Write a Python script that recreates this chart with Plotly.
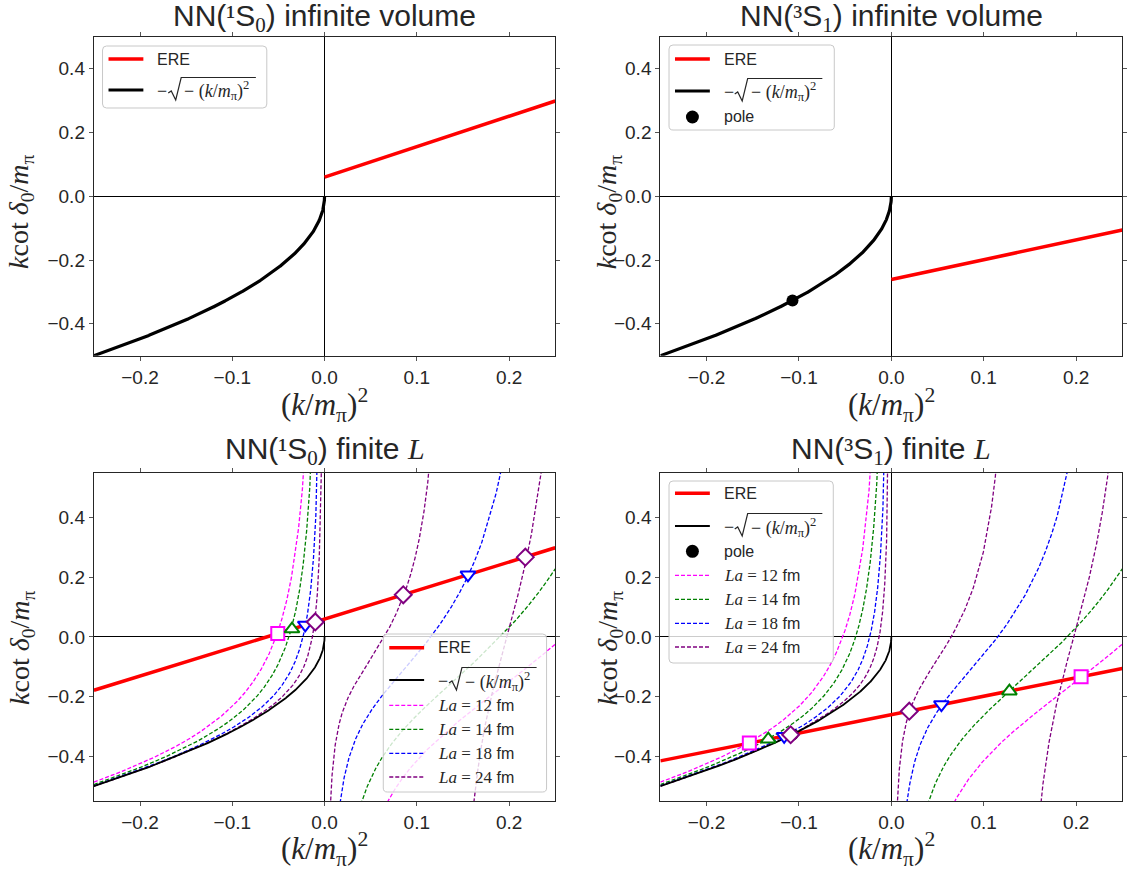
import numpy as np
import plotly.graph_objects as go

# ---------------------------------------------------------------------------
# Inputs
# ---------------------------------------------------------------------------
HBARC_MEV_FM = 197.327
M_PION_MEV = 139.57

box_sizes_fm = [12, 14, 18, 24]
box_colors = ["#ff00ff", "#008000", "#0000ff", "#800080"]
box_symbols = ["square", "triangle-up", "triangle-down", "diamond"]
box_marker_sizes = [13, 13, 13, 13]

# effective range expansion: k cot(delta)/m_pi = intercept + slope * (k/m_pi)^2
channel_names = ["1S0", "3S1"]
ere_intercept = [0.0597, -0.2609]
ere_slope = [0.955, 0.619]

# deuteron pole on the bound-state branch
pole_x = [-0.107]
pole_y = [-0.327]

# finite-volume levels (ERE crossings), one list per box size
levels_x_1s0 = [[-0.0507], [-0.0353], [-0.0209, 0.1554], [-0.0101, 0.0853, 0.2176]]
levels_y_1s0 = [[0.011], [0.026], [0.040, 0.208], [0.050, 0.141, 0.267]]
levels_x_3s1 = [[-0.1537, 0.2054], [-0.1332, 0.1278], [-0.116, 0.0542], [-0.109, 0.0194]]
levels_y_3s1 = [[-0.356, -0.134], [-0.343, -0.182], [-0.333, -0.227], [-0.328, -0.249]]

x_ticks = [-0.2, -0.1, 0.0, 0.1, 0.2]
y_ticks = [-0.4, -0.2, 0.0, 0.2, 0.4]

W, H = 1128, 871
SANS = "Liberation Sans"
SERIF = "Liberation Serif"
INK = "#262626"


# ---------------------------------------------------------------------------
# Luscher zeta function S(eta) = sum_n 1/(n^2 - eta) - 4 pi Lambda
# (heat-kernel representation, split at t = 1)
# ---------------------------------------------------------------------------
def luscher_S(eta):
    eta = np.asarray(eta, dtype=float)
    r = np.arange(-6, 7)
    n2 = (r[:, None, None] ** 2 + r[None, :, None] ** 2 + r[None, None, :] ** 2).ravel()
    n2_vals, n2_mult = np.unique(n2, return_counts=True)
    d = n2_vals[None, :] - eta[:, None]
    term_sum = np.sum(n2_mult[None, :] * np.exp(-d) / d, axis=1)

    k = np.arange(1, 45, dtype=float)
    fact = np.cumprod(k)
    coeff = 1.0 / (fact * (k - 0.5))
    term_series = np.sum(coeff[None, :] * eta[:, None] ** k[None, :], axis=1)

    m = np.arange(-3, 4)
    m2 = (m[:, None, None] ** 2 + m[None, :, None] ** 2 + m[None, None, :] ** 2).ravel()
    m2_vals, m2_mult = np.unique(m2[m2 > 0], return_counts=True)
    nodes, weights = np.polynomial.legendre.leggauss(80)
    t = 0.5 * (nodes + 1.0)
    w = 0.5 * weights
    theta = np.sum(m2_mult[None, :] * np.exp(-np.pi ** 2 * m2_vals[None, :] / t[:, None]), axis=1)
    integrand = t[None, :] ** -1.5 * np.exp(t[None, :] * eta[:, None]) * theta[None, :]
    term_poisson = integrand @ w

    p32 = np.pi ** 1.5
    return term_sum - 2.0 * p32 + p32 * term_series + p32 * term_poisson


x_grid = np.linspace(-0.25, 0.25, 8000)


def finite_volume_curve(L_fm):
    mL = L_fm * M_PION_MEV / HBARC_MEV_FM
    eta = x_grid * (mL / (2.0 * np.pi)) ** 2
    y = luscher_S(eta) / (np.pi * mL)
    return [None if (not np.isfinite(v) or abs(v) > 1.0) else float(v) for v in y]


x_neg = np.linspace(-0.25, 0.0, 1500)
y_neg = -np.sqrt(-x_neg)

fig = go.Figure()

panels = [
    # (axis suffix, channel index, finite volume?)
    ("", 0, False),
    ("2", 1, False),
    ("3", 0, True),
    ("4", 1, True),
]

for suffix, ch, finite in panels:
    xa, ya = "x" + suffix, "y" + suffix
    b, c = ere_intercept[ch], ere_slope[ch]

    if finite:
        for L, col in zip(box_sizes_fm, box_colors):
            fig.add_trace(go.Scatter(
                x=x_grid, y=finite_volume_curve(L), mode="lines", xaxis=xa, yaxis=ya,
                line=dict(color=col, width=1.3, dash="4px,2px"), connectgaps=False,
                name=f"La = {L} fm", showlegend=False, hoverinfo="skip"))

    ere_x = np.array([-0.25, 0.25]) if finite else np.array([0.0, 0.25])
    fig.add_trace(go.Scatter(
        x=ere_x, y=b + c * ere_x, mode="lines", xaxis=xa, yaxis=ya,
        line=dict(color="#ff0000", width=3.5), name="ERE", showlegend=False))

    fig.add_trace(go.Scatter(
        x=x_neg, y=y_neg, mode="lines", xaxis=xa, yaxis=ya,
        line=dict(color="#000000", width=1.8 if finite else 3.2),
        name="-sqrt(-(k/m_pi)^2)", showlegend=False))

    if ch == 1:
        fig.add_trace(go.Scatter(
            x=pole_x, y=pole_y, mode="markers", xaxis=xa, yaxis=ya,
            marker=dict(color="#000000", size=12, symbol="circle"),
            name="pole", showlegend=False, cliponaxis=False))

    if finite:
        lx = levels_x_1s0 if ch == 0 else levels_x_3s1
        ly = levels_y_1s0 if ch == 0 else levels_y_3s1
        for i, col in enumerate(box_colors):
            fig.add_trace(go.Scatter(
                x=lx[i], y=ly[i], mode="markers", xaxis=xa, yaxis=ya, showlegend=False,
                marker=dict(symbol=box_symbols[i], size=box_marker_sizes[i], color="#ffffff",
                            line=dict(color=col, width=2))))


def px_x(v):
    return v / W


def px_y(v):
    return 1.0 - v / H


panel_px = {
    "": (94.3, 557.7, 36.7, 355.7, 0.5),
    "2": (663.3, 1127.3, 36.7, 355.7, 0.5),
    "3": (94.3, 557.7, 472.7, 801.0, 0.55),
    "4": (663.3, 1127.3, 472.7, 801.0, 0.55),
}

axis_common = dict(
    showline=True, linecolor=INK, linewidth=1.2, mirror="ticks",
    ticks="outside", ticklen=4, tickwidth=1, tickcolor="#555555",
    showgrid=False, zeroline=True, zerolinecolor="#000000", zerolinewidth=1.3,
    tickfont=dict(family=SANS, size=19, color=INK), tickformat=".1f",
)

layout_axes = {}
for suffix, (x0, x1, y0, y1, yr) in panel_px.items():
    layout_axes["xaxis" + suffix] = dict(
        axis_common, domain=[px_x(x0), px_x(x1)], range=[-0.25, 0.25],
        tickvals=x_ticks, anchor="y" + suffix)
    layout_axes["yaxis" + suffix] = dict(
        axis_common, domain=[px_y(y1), px_y(y0)], range=[-yr, yr],
        tickvals=y_ticks, anchor="x" + suffix)

shapes = []
annotations = []


def add_text(x, y, text, family, size, anchor="left", angle=0):
    annotations.append(dict(
        x=px_x(x), y=px_y(y), xref="paper", yref="paper", text=text, showarrow=False,
        xanchor=anchor, yanchor="middle", textangle=angle, borderpad=0,
        font=dict(family=family, size=size, color=INK)))


def rounded_box(x0, y0, x1, y1, rad=4.0):
    X = lambda v: f"{px_x(v):.6f}"
    Y = lambda v: f"{px_y(v):.6f}"
    return (f"M {X(x0 + rad)},{Y(y0)} L {X(x1 - rad)},{Y(y0)} Q {X(x1)},{Y(y0)} {X(x1)},{Y(y0 + rad)} "
            f"L {X(x1)},{Y(y1 - rad)} Q {X(x1)},{Y(y1)} {X(x1 - rad)},{Y(y1)} "
            f"L {X(x0 + rad)},{Y(y1)} Q {X(x0)},{Y(y1)} {X(x0)},{Y(y1 - rad)} "
            f"L {X(x0)},{Y(y0 + rad)} Q {X(x0)},{Y(y0)} {X(x0 + rad)},{Y(y0)} Z")


def sqrt_entry(tx, cy):
    # leading minus, radical sign with its bar, then the radicand
    add_text(tx, cy, "−", SERIF, 18)
    yo = cy - 13.5
    pts = [(tx + 12, cy + 2), (tx + 15, cy), (tx + 19.5, cy + 9), (tx + 25, yo), (tx + 100, yo)]
    path = "M " + " L ".join(f"{px_x(a):.6f},{px_y(b):.6f}" for a, b in pts)
    shapes.append(dict(type="path", path=path, xref="paper", yref="paper", layer="above",
                       line=dict(color=INK, width=1.2)))
    add_text(tx + 27, cy, "− (<i>k</i>/<i>m</i><sub>π</sub>)<sup>2</sup>", SERIF, 18)


def box_label(L):
    return f"<span style='font-family:{SERIF};font-size:17px'><i>La</i> = {L}</span> fm"


def draw_key(box, rows):
    x0, y0, x1, y1 = box
    shapes.append(dict(type="path", path=rounded_box(x0, y0, x1, y1), xref="paper", yref="paper",
                       layer="above", fillcolor="rgba(255,255,255,0.8)",
                       line=dict(color="#c8c8c8", width=1)))
    lx0, lx1, tx = x0 + 6, x0 + 41, x0 + 54
    for kind, y, style in rows:
        if kind == "ere":
            shapes.append(dict(type="line", x0=px_x(lx0), x1=px_x(lx1), y0=px_y(y), y1=px_y(y),
                               xref="paper", yref="paper", layer="above",
                               line=dict(color="#ff0000", width=3.5)))
            add_text(tx, y, "ERE", SANS, 16)
        elif kind == "sqrt":
            shapes.append(dict(type="line", x0=px_x(lx0), x1=px_x(lx1), y0=px_y(y), y1=px_y(y),
                               xref="paper", yref="paper", layer="above",
                               line=dict(color="#000000", width=style)))
            sqrt_entry(tx, y + 1)
        elif kind == "pole":
            cx = (lx0 + lx1) / 2
            shapes.append(dict(type="circle", x0=px_x(cx - 6.5), x1=px_x(cx + 6.5),
                               y0=px_y(y - 6.5), y1=px_y(y + 6.5), xref="paper", yref="paper",
                               layer="above", fillcolor="#000000", line=dict(color="#000000", width=0)))
            add_text(tx, y, "pole", SANS, 16)
        else:
            L, col = style
            shapes.append(dict(type="line", x0=px_x(lx0), x1=px_x(lx1), y0=px_y(y), y1=px_y(y),
                               xref="paper", yref="paper", layer="above",
                               line=dict(color=col, width=1.3, dash="4px,2px")))
            add_text(tx, y, box_label(L), SANS, 16)


draw_key((103, 46, 268, 108), [("ere", 59, None), ("sqrt", 90, 3.2)])
draw_key((672, 45, 838, 130), [("ere", 59, None), ("sqrt", 91, 3.2), ("pole", 117, None)])
draw_key((385, 634, 549, 792),
         [("ere", 647.7, None), ("sqrt", 680, 1.8)]
         + [("box", yy, (L, col)) for yy, L, col in zip([705.3, 729.3, 753.3, 777.0], box_sizes_fm, box_colors)])
draw_key((672, 481, 837, 663),
         [("ere", 493.3, None), ("sqrt", 526, 1.8), ("pole", 551.3, None)]
         + [("box", yy, (L, col)) for yy, L, col in zip([575.3, 599.3, 623.3, 647.0], box_sizes_fm, box_colors)])

sup1 = f"<span style='font-family:{SERIF}'>¹</span>"
sup3 = f"<span style='font-family:{SERIF}'>³</span>"
sub0 = f"<sub><span style='font-family:{SERIF}'>0</span></sub>"
sub1 = f"<sub><span style='font-family:{SERIF}'>1</span></sub>"
italic_L = f"<span style='font-family:{SERIF}'><i>L</i></span>"

titles = [
    (326.0, 17.5, f"NN({sup1}S{sub0}) infinite volume"),
    (895.3, 17.5, f"NN({sup3}S{sub1}) infinite volume"),
    (326.0, 451.0, f"NN({sup1}S{sub0}) finite {italic_L}"),
    (895.3, 451.0, f"NN({sup3}S{sub1}) finite {italic_L}"),
]
for cx, cy, txt in titles:
    add_text(cx, cy, txt, SANS, 30, anchor="center")

x_label = "(<i>k</i>/<i>m</i><sub>π</sub>)<sup>2</sup>"
y_label = "<i>k</i>cot <i>δ</i><sub>0</sub>/<i>m</i><sub>π</sub>"
for cx, cy in [(326.0, 405.0), (895.3, 405.0), (326.0, 849.0), (895.3, 849.0)]:
    add_text(cx, cy, x_label, SERIF, 31, anchor="center")
for cx, cy in [(21.0, 212.0), (612.0, 212.0), (21.0, 648.0), (612.0, 648.0)]:
    add_text(cx, cy, y_label, SERIF, 28, anchor="center", angle=-90)

fig.update_layout(
    width=W, height=H, margin=dict(l=0, r=0, t=0, b=0),
    paper_bgcolor="#ffffff", plot_bgcolor="#ffffff", showlegend=False,
    shapes=shapes, annotations=annotations, **layout_axes,
)

fig.write_html("out.html")
